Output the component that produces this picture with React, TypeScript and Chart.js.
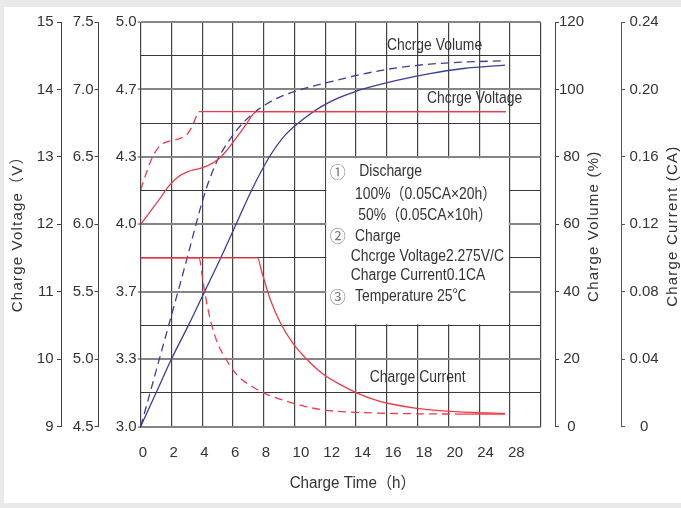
import React, { useEffect, useRef } from 'react';
import { Chart, registerables } from 'chart.js';

Chart.register(...registerables);

// ---------- axis ticks ----------
const xTickValues = [0, 2, 4, 6, 8, 10, 12, 14, 16, 18, 20, 22, 24, 26];
const xTickLabels = ['0', '2', '4', '6', '8', '10', '12', '14', '16', '18', '20', '24', '28', ''];
const batteryVoltTicks = [9, 10, 11, 12, 13, 14, 15];
const halfVoltTicks = [4.5, 5.0, 5.5, 6.0, 6.5, 7.0, 7.5];
const cellVoltTickLabels = ['3.0', '3.3', '3.7', '4.0', '4.3', '4.7', '5.0'];
const volumeTicks = [0, 20, 40, 60, 80, 100, 120];
const currentTicks = [0, 0.04, 0.08, 0.12, 0.16, 0.2, 0.24];
const currentTickLabels = ['0', '0.04', '0.08', '0.12', '0.16', '0.20', '0.24'];

// ---------- series (time in axis units, values in V / % / CA) ----------
const volt50Time = [0, 0.26, 0.69, 1.12, 1.56, 1.99, 2.64, 3.07, 3.4, 3.61, 3.77, 23.74];
const volt50Value = [12.51, 12.69, 12.96, 13.13, 13.21, 13.24, 13.28, 13.35, 13.48, 13.6, 13.67, 13.67];

const volt100Time = [0, 0.69, 1.34, 1.77, 2.42, 3.07, 3.72, 4.37, 5.02, 5.46, 6.11, 6.76, 7.3, 7.51, 23.74];
const volt100Value = [12.0, 12.21, 12.41, 12.55, 12.7, 12.78, 12.82, 12.87, 12.96, 13.06, 13.25, 13.45, 13.63, 13.67, 13.67];

const cur50Time = [0, 3.79, 4.05, 4.26, 4.59, 5.02, 5.67, 6.32, 7.19, 7.98, 9.14, 10.66, 11.88, 14.05, 16.2, 20.5, 23.68];
const cur50Value = [0.1, 0.1, 0.086, 0.075, 0.061, 0.049, 0.038, 0.03, 0.024, 0.02, 0.016, 0.012, 0.0098, 0.0084, 0.0078, 0.0074, 0.0074];

const cur100Time = [0, 7.6, 7.86, 8.4, 9.05, 9.92, 11.0, 11.87, 12.95, 14.03, 15.34, 16.2, 17.94, 19.45, 21.6, 23.68];
const cur100Value = [0.1, 0.1, 0.092, 0.076, 0.062, 0.049, 0.038, 0.031, 0.025, 0.02, 0.0155, 0.0135, 0.0108, 0.0094, 0.0083, 0.0078];

const vol50Time = [0, 0.5, 1.12, 2.0, 2.86, 3.51, 3.94, 4.37, 5.02, 5.89, 6.76, 7.62, 8.92, 10.66, 12.82, 14.47, 16.64, 18.8, 20.97, 23.68];
const vol50Value = [0, 8.2, 18.5, 33.0, 47.3, 58.5, 65.8, 72.0, 79.3, 85.8, 90.6, 94.0, 97.5, 100.3, 102.8, 104.6, 106.4, 107.5, 108.1, 108.5];

const vol100Time = [0, 1.0, 2.0, 3.1, 4.15, 5.2, 6.2, 7.2, 8.3, 9.4, 10.66, 11.74, 12.82, 13.9, 15.0, 16.64, 18.8, 20.97, 23.68];
const vol100Value = [0, 10, 20, 30, 40, 50, 60, 70, 79.5, 86.5, 91.5, 94.9, 97.4, 99.3, 100.8, 102.7, 104.7, 106.2, 107.2];

// ---------- notes ----------
const noteBox = [12, 24, 80, 30]; // x from, x to, volume top, volume bottom
const noteLines = [
  { mark: '①', text: 'Discharge', dx: 34, dy: 15 },
  { mark: '', text: '100%（0.05CA×20h）', dx: 29.7, dy: 37.6 },
  { mark: '', text: '50%（0.05CA×10h）', dx: 33, dy: 58.3 },
  { mark: '②', text: 'Charge', dx: 29.7, dy: 79.3 },
  { mark: '', text: 'Chcrge Voltage2.275V/C', dx: 25.4, dy: 99.3 },
  { mark: '', text: 'Charge Current0.1CA', dx: 25.4, dy: 118.3 },
  { mark: '③', text: 'Temperature 25℃', dx: 29.7, dy: 140 },
];
const curveLabels = [
  { text: 'Chcrge Volume', x: 19.1, y: 113.0 },
  { text: 'Chcrge Voltage', x: 21.7, y: 97.2 },
  { text: 'Charge Current', x: 18.0, y: 14.4 },
];

const FONT = '"Liberation Sans", Arial, "Noto Sans CJK SC", sans-serif';
const TEXT = '#333333';
const RED = '#ef3b47';
const BLUE = '#3a3e97';

function pts(t: number[], v: number[]) {
  return t.map((x, i) => ({ x, y: v[i] }));
}

function drawLabel(
  ctx: CanvasRenderingContext2D,
  text: string,
  x: number,
  y: number,
  o: { size?: number; align?: CanvasTextAlign; color?: string; rot?: number; sx?: number; ls?: number; family?: string } = {}
) {
  ctx.save();
  ctx.translate(x, y);
  if (o.rot) ctx.rotate(o.rot);
  if (o.sx) ctx.scale(o.sx, 1);
  ctx.font = `${o.size ?? 15}px ${o.family ?? FONT}`;
  (ctx as any).letterSpacing = `${o.ls ?? 0}px`;
  ctx.textAlign = o.align ?? 'left';
  ctx.textBaseline = 'middle';
  ctx.fillStyle = o.color ?? TEXT;
  ctx.fillText(text, 0, 0);
  ctx.restore();
}

const overlayPlugin = {
  id: 'overlay',
  beforeDatasetsDraw(chart: any) {
    const { ctx, scales } = chart;
    const l = scales.x.getPixelForValue(noteBox[0]);
    const r = scales.x.getPixelForValue(noteBox[1]);
    const t = scales.yVol.getPixelForValue(noteBox[2]);
    const b = scales.yVol.getPixelForValue(noteBox[3]);
    ctx.save();
    ctx.fillStyle = '#ffffff';
    ctx.fillRect(l + 1, t + 1.5, r - l - 2, b - t - 2.5);
    ctx.restore();
  },
  afterDraw(chart: any) {
    const { ctx, scales } = chart;
    const l = scales.x.getPixelForValue(noteBox[0]);
    const t = scales.yVol.getPixelForValue(noteBox[2]);
    noteLines.forEach((ln) => {
      if (ln.mark) {
        drawLabel(ctx, ln.mark, l + 4.5, t + ln.dy, { size: 16, color: '#777777', family: '"Noto Sans CJK SC", "DejaVu Sans", sans-serif' });
      }
      drawLabel(ctx, ln.text, l + ln.dx, t + ln.dy, { size: 16, sx: 0.87 });
    });
    curveLabels.forEach((c) => {
      drawLabel(ctx, c.text, scales.x.getPixelForValue(c.x), scales.yVol.getPixelForValue(c.y), {
        size: 16,
        sx: 0.87,
        align: 'center',
      });
    });
    // axis titles
    const area = chart.chartArea;
    const midY = (area.top + area.bottom) / 2;
    drawLabel(ctx, 'Charge Time（h）', (area.left + area.right) / 2 + 12, area.bottom + 57, { size: 16, sx: 0.95, align: 'center' });
    drawLabel(ctx, 'Charge Voltage（V）', 18, midY + 6, { size: 15, ls: 1.2, align: 'center', rot: -Math.PI / 2 });
    drawLabel(ctx, 'Charge Volume (%)', scales.yVol.left + 39, midY + 2, { size: 15, ls: 1.2, align: 'center', rot: -Math.PI / 2 });
    drawLabel(ctx, 'Charge Current (CA)', scales.yCur.left + 52, midY + 2, { size: 15, ls: 1.2, align: 'center', rot: -Math.PI / 2 });
  },
};

const tickFont = { family: FONT, size: 15 };

export default function App() {
  const canvasRef = useRef<HTMLCanvasElement | null>(null);

  useEffect(() => {
    const canvas = canvasRef.current;
    if (!canvas) return;
    const line = (label: string, data: any[], color: string, axis: string, dashed: boolean) => ({
      label,
      data,
      yAxisID: axis,
      borderColor: color,
      backgroundColor: color,
      borderWidth: 1.3,
      borderDash: dashed ? [8, 5] : [],
      // the flat (limited) part of each curve is printed as a plain line
      segment: {
        borderDash: (c: any) => (c.p0.parsed.y === c.p1.parsed.y ? [] : undefined),
      },
      pointRadius: 0,
      fill: false,
      cubicInterpolationMode: 'monotone' as const,
    });

    const chart = new Chart(canvas, {
      type: 'line',
      data: {
        datasets: [
          line('Charge voltage (50%)', pts(volt50Time, volt50Value), RED, 'yV', true),
          line('Charge voltage (100%)', pts(volt100Time, volt100Value), RED, 'yV', false),
          line('Charge current (50%)', pts(cur50Time, cur50Value), RED, 'yCur', true),
          line('Charge current (100%)', pts(cur100Time, cur100Value), RED, 'yCur', false),
          line('Charge volume (50%)', pts(vol50Time, vol50Value), BLUE, 'yVol', true),
          line('Charge volume (100%)', pts(vol100Time, vol100Value), BLUE, 'yVol', false),
        ],
      },
      options: {
        responsive: false,
        animation: false,
        events: [],
        layout: { padding: { top: 22, left: 0, right: 0, bottom: 0 } },
        plugins: { legend: { display: false }, tooltip: { enabled: false } },
        scales: {
          x: {
            type: 'linear',
            position: 'bottom',
            min: 0,
            max: 26,
            afterBuildTicks: (s: any) => {
              s.ticks = xTickValues.map((value) => ({ value }));
            },
            afterFit: (s: any) => {
              s.height = 81.5;
            },
            ticks: {
              autoSkip: false,
              maxRotation: 0,
              align: 'start',
              labelOffset: -2,
              padding: 17,
              color: TEXT,
              font: tickFont,
              callback: (_v: any, i: number) => xTickLabels[i] ?? '',
            },
            grid: { color: '#444444', lineWidth: 1.2, drawTicks: false },
            border: { display: false },
          },
          yV: {
            type: 'linear',
            position: 'left',
            weight: 2,
            min: 9,
            max: 15,
            afterBuildTicks: (s: any) => {
              s.ticks = batteryVoltTicks.map((value) => ({ value }));
            },
            afterFit: (s: any) => {
              s.width = 61;
            },
            ticks: { autoSkip: false, padding: 3.5, color: TEXT, font: tickFont, callback: (v: any) => String(v) },
            grid: { drawOnChartArea: false, tickLength: 4, color: '#444444', lineWidth: 1 },
            border: { display: true, color: '#444444', width: 1 },
          },
          yV6: {
            type: 'linear',
            position: 'left',
            weight: 1,
            min: 4.5,
            max: 7.5,
            afterBuildTicks: (s: any) => {
              s.ticks = halfVoltTicks.map((value) => ({ value }));
            },
            afterFit: (s: any) => {
              s.width = 37.5;
            },
            ticks: { autoSkip: false, padding: 1, color: TEXT, font: tickFont, callback: (v: any) => Number(v).toFixed(1) },
            grid: { drawOnChartArea: false, tickLength: 4, color: '#444444', lineWidth: 1 },
            border: { display: true, color: '#444444', width: 1 },
          },
          yC: {
            type: 'linear',
            position: 'left',
            weight: 0,
            min: 3,
            max: 5,
            afterBuildTicks: (s: any) => {
              s.ticks = Array.from({ length: 13 }, (_, k) => ({ value: 3 + (k * 2) / 12 }));
            },
            afterFit: (s: any) => {
              s.width = 42.2;
            },
            ticks: {
              autoSkip: false,
              padding: 1,
              color: TEXT,
              font: tickFont,
              callback: (_v: any, i: number) => (i % 2 === 0 ? cellVoltTickLabels[i / 2] : ''),
            },
            grid: {
              drawOnChartArea: true,
              tickLength: 3,
              tickWidth: 1,
              color: (c: any) => (c.index % 2 === 0 ? '#858585' : '#383838'),
              lineWidth: (c: any) => (c.index % 2 === 0 ? 2 : 1),
              tickColor: (c: any) => (c.index % 2 === 0 ? '#444444' : 'rgba(0,0,0,0)'),
            },
            border: { display: true, color: '#444444', width: 1 },
          },
          gap: {
            type: 'linear',
            position: 'right',
            weight: 0,
            min: 0,
            max: 1,
            afterFit: (s: any) => {
              s.width = 14.3;
            },
            ticks: { display: false },
            grid: { display: false },
            border: { display: false },
          },
          yVol: {
            type: 'linear',
            position: 'right',
            weight: 1,
            min: 0,
            max: 120,
            afterBuildTicks: (s: any) => {
              s.ticks = volumeTicks.map((value) => ({ value }));
            },
            afterFit: (s: any) => {
              s.width = 66;
            },
            ticks: { autoSkip: false, padding: 0, crossAlign: 'center', color: TEXT, font: tickFont, callback: (v: any) => String(v) },
            grid: { drawOnChartArea: false, tickLength: 4, color: '#444444', lineWidth: 1 },
            border: { display: true, color: '#444444', width: 1 },
          },
          yCur: {
            type: 'linear',
            position: 'right',
            weight: 2,
            min: 0,
            max: 0.24,
            afterBuildTicks: (s: any) => {
              s.ticks = currentTicks.map((value) => ({ value }));
            },
            afterFit: (s: any) => {
              s.width = 60;
            },
            ticks: {
              autoSkip: false,
              padding: 4.5,
              crossAlign: 'center',
              color: TEXT,
              font: tickFont,
              callback: (_v: any, i: number) => currentTickLabels[i] ?? '',
            },
            grid: { drawOnChartArea: false, tickLength: 4, color: '#555555', lineWidth: 1 },
            border: { display: true, color: '#555555', width: 1 },
          },
        },
      } as any,
      plugins: [overlayPlugin],
    });
    return () => chart.destroy();
  }, []);

  return (
    <div style={{ position: 'absolute', left: 0, top: 0, width: 681, height: 508, background: '#e8e9eb', overflow: 'hidden' }}>
      <div style={{ position: 'absolute', left: 4, top: 7, width: 677, height: 496, background: '#ffffff' }} />
      <canvas ref={canvasRef} width={681} height={508} style={{ position: 'absolute', left: 0, top: 0 }} />
    </div>
  );
}
